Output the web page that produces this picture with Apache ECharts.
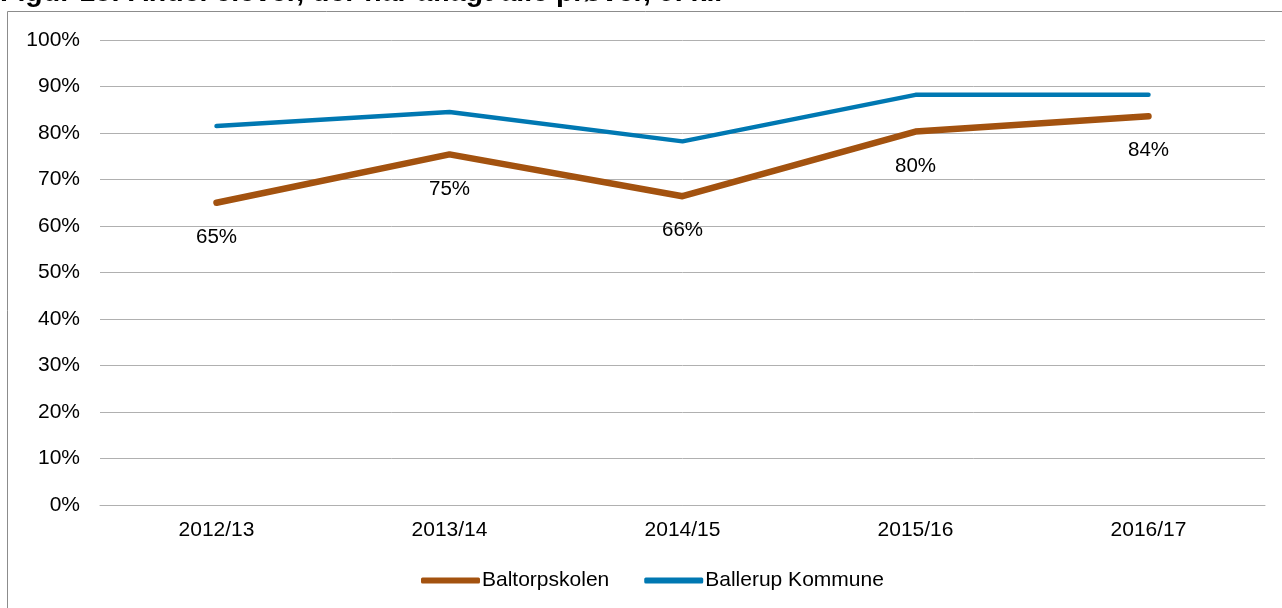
<!DOCTYPE html>
<html>
<head>
<meta charset="utf-8">
<script src="https://cdn.jsdelivr.net/npm/echarts@6/dist/echarts.min.js"></script>
<style>
html,body{margin:0;padding:0;background:#fff;}
#chart{width:1282px;height:608px;}
</style>
</head>
<body>
<div id="chart"></div>
<script>
var titleText = 'Figur 18: Andel elever, der har aflagt alle prøver, 9. kl.';
var categories = ['2012/13', '2013/14', '2014/15', '2015/16', '2016/17'];
var seriesNames = ['Baltorpskolen', 'Ballerup Kommune'];
var baltorpValues = [65.0, 75.4, 66.4, 80.3, 83.6];
var ballerupValues = [81.5, 84.5, 78.2, 88.2, 88.2];
var yTicks = [0, 10, 20, 30, 40, 50, 60, 70, 80, 90, 100];

var font = '"Liberation Sans", Arial, sans-serif';
var chart = echarts.init(document.getElementById('chart'));
chart.setOption({
  backgroundColor: '#fff',
  animation: false,
  graphic: [
    {type: 'rect', shape: {x: 7.5, y: 11.5, width: 1400, height: 800},
     style: {fill: 'none', stroke: '#8c8c8c', lineWidth: 1}, silent: true},
    {type: 'text', x: 0, y: 7.5, style: {text: titleText, font: 'bold 28.5px ' + font,
     fill: '#000', textVerticalAlign: 'bottom'}, silent: true}
  ],
  grid: {left: 100, right: 17, top: 40, bottom: 103},
  legend: {
    left: 416, top: 565, itemWidth: 59, itemGap: 35,
    data: [
      {name: seriesNames[0], icon: 'roundRect', itemStyle: {color: '#a3520f'}},
      {name: seriesNames[1], icon: 'roundRect', itemStyle: {color: '#0078b2'}}
    ],
    itemHeight: 6,
    textStyle: {fontFamily: font, fontSize: 21, color: '#000', padding: [0, 0, 0, -3]}
  },
  xAxis: {
    type: 'category', data: categories, boundaryGap: true,
    axisLine: {lineStyle: {color: '#b0b0b0', width: 1}},
    axisTick: {show: false},
    axisLabel: {fontFamily: font, fontSize: 21, color: '#000', margin: 15}
  },
  yAxis: {
    type: 'value', min: yTicks[0], max: yTicks[yTicks.length - 1], interval: 10,
    axisLine: {show: false}, axisTick: {show: false},
    axisLabel: {fontFamily: font, fontSize: 21, color: '#000', margin: 20, formatter: '{value}%'},
    splitLine: {lineStyle: {color: '#b0b0b0', width: 1}}
  },
  series: [
    {name: seriesNames[0], type: 'line', data: baltorpValues,
     symbol: 'circle', symbolSize: 0, showSymbol: true,
     color: '#a3520f',
     lineStyle: {width: 6.5, color: '#a3520f', cap: 'round', join: 'round'},
     label: {show: true, position: 'bottom', distance: 24, fontFamily: font, fontSize: 20.5, color: '#000',
       formatter: function (p) { return Math.round(p.value) + '%'; }}
    },
    {name: seriesNames[1], type: 'line', data: ballerupValues,
     symbol: 'circle', symbolSize: 0, showSymbol: false,
     color: '#0078b2',
     lineStyle: {width: 4.5, color: '#0078b2', cap: 'round', join: 'round'}
    }
  ]
});
</script>
</body>
</html>
